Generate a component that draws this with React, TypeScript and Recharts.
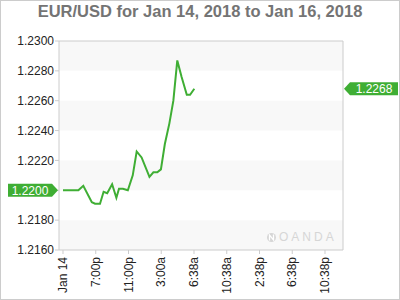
import { LineChart, Line, XAxis, YAxis, ReferenceArea, ReferenceDot } from 'recharts'

// x positions are in "tick slots" (one slot between each labelled tick)
const xLabels = ['Jan 14', '7:00p', '11:00p', '3:00a', '6:38a', '10:38a', '2:38p', '6:38p', '10:38p']
const xTicks = [0, 1, 2, 3, 4, 5, 6, 7, 8]
const xDomain = [-0.122, 8.55]
const yTicks = [1.216, 1.218, 1.22, 1.222, 1.224, 1.226, 1.228, 1.23]
const yDomain = [1.216, 1.23]

const slots = [
  0, 0.47, 0.62, 0.88, 0.98, 1.13, 1.24, 1.35, 1.5, 1.63, 1.71, 1.83, 1.98, 2.13, 2.25, 2.4, 2.64,
  2.76, 2.88, 2.99, 3.11, 3.25, 3.37, 3.49, 3.62, 3.78, 3.88, 4.01,
]
const prices = [
  1.22, 1.22, 1.2203, 1.2192, 1.2191, 1.2191, 1.2199, 1.2198, 1.2204, 1.2195, 1.2201, 1.2201, 1.22,
  1.221, 1.2226, 1.2222, 1.2209, 1.2212, 1.2212, 1.2214, 1.2231, 1.2245, 1.226, 1.2287, 1.2276,
  1.2264, 1.2264, 1.2268,
]

const data = slots.map((t, i) => ({ t, price: prices[i] }))

const GREEN = '#3fae34'
const FONT = '"Liberation Sans", Arial, sans-serif'
const first = prices[0]
const last = prices[prices.length - 1]

// alternate grey bands, starting from the top
const sortedTicks = [...yTicks].sort((a, b) => b - a)
const bands = sortedTicks
  .slice(0, -1)
  .map((top, i) => ({ top, bottom: sortedTicks[i + 1] }))
  .filter((_, i) => i % 2 === 0)

function XTick({ x, y, payload }: any) {
  return (
    <text
      x={x}
      y={y}
      transform={`rotate(-90, ${x}, ${y})`}
      textAnchor="end"
      dy="0.35em"
      fill="#222"
      fontSize={12}
      fontFamily={FONT}
    >
      {xLabels[payload.value]}
    </text>
  )
}

// left tick labels; the one under the open tag is hidden like in the original
function LeftTick({ x, y, payload, textAnchor }: any) {
  if (Math.abs(payload.value - first) < 1e-9) return null
  return (
    <text x={x} y={y} dy="0.35em" textAnchor={textAnchor} fill="#222" fontSize={12} fontFamily={FONT}>
      {payload.value.toFixed(4)}
    </text>
  )
}

function LeftTag({ cx, cy }: any) {
  if (cx == null || cy == null) return null
  const h = 6.5
  const tip = cx - 1
  return (
    <g>
      <path d={`M8,${cy - h} H${tip - 6} L${tip},${cy} L${tip - 6},${cy + h} H8 Z`} fill={GREEN} />
      <text x={(8 + tip - 6) / 2} y={cy} dy="0.36em" textAnchor="middle" fill="#fff" fontSize={12} fontFamily={FONT}>
        {first.toFixed(4)}
      </text>
    </g>
  )
}

function RightTag({ cx, cy }: any) {
  if (cx == null || cy == null) return null
  const h = 6.5
  const tip = cx + 1
  return (
    <g>
      <path d={`M${tip},${cy} L${tip + 6},${cy - h} H398 V${cy + h} H${tip + 6} Z`} fill={GREEN} />
      <text x={(tip + 6 + 398) / 2} y={cy} dy="0.36em" textAnchor="middle" fill="#fff" fontSize={12} fontFamily={FONT}>
        {last.toFixed(4)}
      </text>
    </g>
  )
}

export default function App() {
  return (
    <div
      style={{
        position: 'absolute',
        left: 0,
        top: 0,
        width: 400,
        height: 300,
        boxSizing: 'border-box',
        border: '1px solid #cccccc',
        background: '#fff',
        fontFamily: FONT,
      }}
    >
      <div
        style={{
          position: 'absolute',
          top: 1,
          left: 0,
          width: 398,
          textAlign: 'center',
          fontSize: 16.5,
          fontWeight: 'bold',
          color: '#747474',
        }}
      >
        EUR/USD for Jan 14, 2018 to Jan 16, 2018
      </div>
      <div style={{ position: 'absolute', left: -1, top: -1 }}>
        <LineChart width={400} height={300} data={data} margin={{ top: 41, right: 0, bottom: 0, left: 0 }}>
          <XAxis
            dataKey="t"
            type="number"
            domain={xDomain}
            ticks={xTicks}
            interval={0}
            height={50}
            axisLine={false}
            tickSize={4}
            tickMargin={3}
            tickLine={{ stroke: '#ccc' }}
            tick={<XTick />}
          />
          <YAxis
            yAxisId="left"
            domain={yDomain}
            ticks={yTicks}
            interval={0}
            width={59}
            axisLine={false}
            tickSize={4}
            tickMargin={1}
            tickLine={{ stroke: '#ccc' }}
            tick={<LeftTick />}
          />
          <YAxis
            yAxisId="right"
            orientation="right"
            domain={yDomain}
            ticks={yTicks}
            interval={0}
            width={57}
            axisLine={false}
            tickSize={4}
            tickMargin={2}
            tickLine={{ stroke: '#ccc' }}
            tickFormatter={(v: number) => v.toFixed(4)}
            tick={{ fill: '#222', fontSize: 12, fontFamily: FONT }}
          />
          {bands.map((b) => (
            <ReferenceArea key={b.top} yAxisId="left" y1={b.bottom} y2={b.top} fill="#f8f8f8" fillOpacity={1} stroke="none" />
          ))}
          <ReferenceArea yAxisId="left" y1={yDomain[0]} y2={yDomain[1]} fill="none" stroke="#cccccc" strokeWidth={1} />
          <Line
            yAxisId="left"
            type="linear"
            dataKey="price"
            stroke={GREEN}
            strokeWidth={2}
            dot={false}
            isAnimationActive={false}
          />
          <ReferenceDot yAxisId="left" x={xDomain[0]} y={first} ifOverflow="visible" shape={(p: any) => <LeftTag {...p} />} />
          <ReferenceDot yAxisId="left" x={xDomain[1]} y={last} ifOverflow="visible" shape={(p: any) => <RightTag {...p} />} />
        </LineChart>
      </div>
      <div
        style={{
          position: 'absolute',
          left: 265,
          top: 229,
          display: 'flex',
          alignItems: 'center',
          color: '#d6d6d6',
          fontSize: 12,
          letterSpacing: 3,
          lineHeight: '14px',
        }}
      >
        <svg width={11} height={11} style={{ marginRight: 2 }}>
          <circle cx={5.5} cy={5.5} r={4.5} fill="#d6d6d6" />
          <path d="M3.5,8.5 V3 L7.5,8 V2.5" stroke="#fff" strokeWidth={1.3} fill="none" />
        </svg>
        <span>OANDA</span>
      </div>
    </div>
  )
}
